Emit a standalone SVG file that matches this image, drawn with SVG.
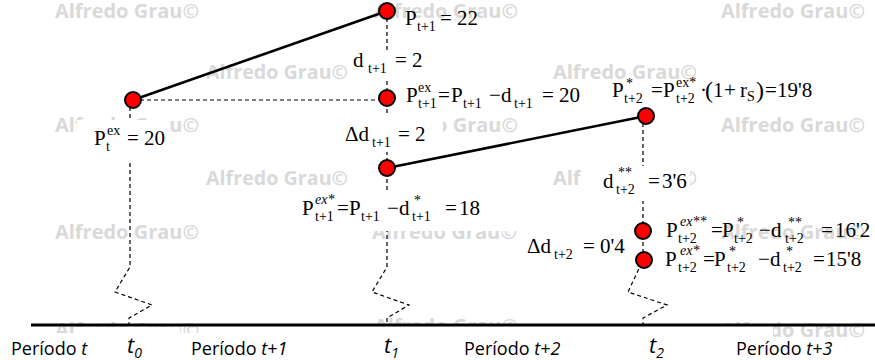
<svg xmlns="http://www.w3.org/2000/svg" width="875" height="360" viewBox="0 0 875 360">
<style>
.wm{font-family:"Open Sans","Liberation Sans",sans-serif;font-weight:bold;font-size:19px;fill:#d9d9d9}
.m{font-family:"Liberation Serif","Times New Roman",serif;font-size:21px;fill:#000}
.s{font-size:14px}
.i{font-style:italic}
.ax{font-family:"Open Sans","Liberation Sans",sans-serif;font-size:18px;fill:#000}
.tk{font-family:"Open Sans","Liberation Sans",sans-serif;font-size:22px;font-style:italic;fill:#000}
.tks{font-size:14px}
.dash{fill:none;stroke:#000;stroke-width:1.2;stroke-dasharray:4 3}
.solid{fill:none;stroke:#000;stroke-width:2.6}
.node{fill:#f00;stroke:#000;stroke-width:2}
.bg{fill:#fff}
</style>
<rect width="875" height="360" fill="#fff"/>
<g id="watermarks">
<text class="wm" x="55" y="18" textLength="144" lengthAdjust="spacingAndGlyphs">Alfredo Grau©</text>
<text class="wm" x="374" y="18" textLength="144" lengthAdjust="spacingAndGlyphs">Alfredo Grau©</text>
<text class="wm" x="721" y="18" textLength="144" lengthAdjust="spacingAndGlyphs">Alfredo Grau©</text>
<text class="wm" x="206" y="79" textLength="142" lengthAdjust="spacingAndGlyphs">Alfredo Grau©</text>
<text class="wm" x="553" y="79" textLength="144" lengthAdjust="spacingAndGlyphs">Alfredo Grau©</text>
<text class="wm" x="55" y="132" textLength="144" lengthAdjust="spacingAndGlyphs">Alfredo Grau©</text>
<text class="wm" x="374" y="132" textLength="144" lengthAdjust="spacingAndGlyphs">Alfredo Grau©</text>
<text class="wm" x="721" y="132" textLength="144" lengthAdjust="spacingAndGlyphs">Alfredo Grau©</text>
<text class="wm" x="206" y="185" textLength="142" lengthAdjust="spacingAndGlyphs">Alfredo Grau©</text>
<text class="wm" x="553" y="185" textLength="144" lengthAdjust="spacingAndGlyphs">Alfredo Grau©</text>
<text class="wm" x="55" y="239" textLength="144" lengthAdjust="spacingAndGlyphs">Alfredo Grau©</text>
<text class="wm" x="372" y="239" textLength="145" lengthAdjust="spacingAndGlyphs">Alfredo Grau©</text>
<text class="wm" x="721" y="239" textLength="144" lengthAdjust="spacingAndGlyphs">Alfredo Grau©</text>
<text class="wm" x="55" y="337" textLength="144" lengthAdjust="spacingAndGlyphs">Alfredo Grau©</text>
<text class="wm" x="374" y="333" textLength="144" lengthAdjust="spacingAndGlyphs">Alfredo Grau©</text>
<text class="wm" x="721" y="337" textLength="144" lengthAdjust="spacingAndGlyphs">Alfredo Grau©</text>
</g>
<g id="connectors">
<path class="dash" d="M133,100 H387"/>
<path class="dash" d="M130,100 V267 L115,292 L152,305 L129,318 V325"/>
<path class="dash" d="M387,11 V267 L372,292 L409,305 L387,318 V325"/>
<path class="dash" d="M643,116 V260 L628,292 L667,305 L643,318 V325"/>
<path class="solid" d="M133,100 L387,11"/>
<path class="solid" d="M387,168 L646,116"/>
</g>
<g id="label-boxes">
<rect class="bg" x="77" y="120" width="91" height="40"/>
<rect class="bg" x="350" y="51" width="76" height="27"/>
<rect class="bg" x="340" y="116" width="103" height="36"/>
<rect class="bg" x="298" y="191" width="222" height="40"/>
<rect class="bg" x="582" y="166" width="108" height="35"/>
<rect class="bg" x="75" y="327" width="105" height="33"/>
<rect class="bg" x="0" y="333" width="720" height="27"/>
<rect class="bg" x="360" y="326" width="160" height="10"/>
<rect class="bg" x="719" y="326" width="54" height="34"/>
<rect class="bg" x="773" y="338" width="102" height="22"/>
</g>
<g id="axis">
<line x1="31" y1="325" x2="875" y2="325" stroke="#000" stroke-width="3"/>
</g>
<g id="node-A"><circle class="node" cx="133" cy="100" r="8"/></g>
<g id="node-B"><circle class="node" cx="387" cy="11" r="8"/></g>
<g id="node-C"><circle class="node" cx="387" cy="98" r="8"/></g>
<g id="node-D"><circle class="node" cx="387" cy="168" r="8"/></g>
<g id="node-E"><circle class="node" cx="646" cy="116" r="8"/></g>
<g id="node-F"><circle class="node" cx="643" cy="231" r="8"/></g>
<g id="node-G"><circle class="node" cx="644" cy="260" r="8"/></g>
<g id="label-Pt">
<text class="m"><tspan x="94" y="145">P</tspan><tspan class="s" x="107" y="135">ex</tspan><tspan class="s" x="106" y="151">t</tspan><tspan x="127" y="145">= 20</tspan></text>
</g>
<g id="label-Pt1">
<text class="m"><tspan x="405" y="25">P</tspan><tspan class="s" x="417" y="31">t+1</tspan><tspan x="440" y="25">= 22</tspan></text>
</g>
<g id="label-dt1">
<text class="m"><tspan x="353" y="67">d</tspan><tspan class="s" x="368" y="73">t+1</tspan><tspan x="395" y="67">= 2</tspan></text>
</g>
<g id="label-Pex-t1">
<text class="m"><tspan x="406" y="102">P</tspan><tspan class="s" x="418" y="92">ex</tspan><tspan class="s" x="418" y="108">t+1</tspan><tspan x="438" y="102">=</tspan><tspan x="451" y="102">P</tspan><tspan class="s" x="463" y="108">t+1</tspan><tspan x="489" y="102">−</tspan><tspan x="501" y="102">d</tspan><tspan class="s" x="514" y="108">t+1</tspan><tspan x="542" y="102">= 20</tspan></text>
</g>
<g id="label-Ddt1">
<text class="m"><tspan x="345" y="141">Δd</tspan><tspan class="s" x="372" y="147">t+1</tspan><tspan x="398" y="141">= 2</tspan></text>
</g>
<g id="label-Pexs-t1">
<text class="m"><tspan x="302" y="215">P</tspan><tspan class="s i" x="315" y="204">ex*</tspan><tspan class="s" x="315" y="221">t+1</tspan><tspan x="337" y="215">=</tspan><tspan x="349" y="215">P</tspan><tspan class="s" x="361" y="221">t+1</tspan><tspan x="387" y="215">−</tspan><tspan x="399" y="215">d</tspan><tspan class="s" x="414" y="205">*</tspan><tspan class="s" x="412" y="221">t+1</tspan><tspan x="445" y="215">=</tspan><tspan x="459" y="215">18</tspan></text>
</g>
<g id="label-Ps-t2">
<text class="m"><tspan x="612" y="97">P</tspan><tspan class="s" x="626" y="88">*</tspan><tspan class="s" x="624" y="103">t+2</tspan><tspan x="651" y="97">=</tspan><tspan x="663" y="97">P</tspan><tspan class="s" x="676" y="87">ex*</tspan><tspan class="s" x="676" y="103">t+2</tspan><tspan x="700" y="97">·</tspan><tspan x="705" y="98" font-size="24">(</tspan><tspan x="713" y="97">1</tspan><tspan x="724" y="97">+</tspan><tspan x="740" y="97">r</tspan><tspan class="s" x="747" y="101">S</tspan><tspan x="756" y="98" font-size="24">)</tspan><tspan x="765" y="97">=</tspan><tspan x="777" y="97">19'8</tspan></text>
</g>
<g id="label-dss-t2">
<text class="m"><tspan x="603" y="188">d</tspan><tspan class="s" x="618" y="177">**</tspan><tspan class="s" x="616" y="194">t+2</tspan><tspan x="648" y="188">=</tspan><tspan x="662" y="188">3'6</tspan></text>
</g>
<g id="label-Ddt2">
<text class="m"><tspan x="527" y="253">Δd</tspan><tspan class="s" x="554" y="259">t+2</tspan><tspan x="583" y="253">=</tspan><tspan x="600" y="253">0'4</tspan></text>
</g>
<g id="label-Pexss-t2">
<text class="m"><tspan x="666" y="237">P</tspan><tspan class="s i" x="680" y="226">ex**</tspan><tspan class="s" x="678" y="243">t+2</tspan><tspan x="711" y="237">=</tspan><tspan x="722" y="237">P</tspan><tspan class="s" x="737" y="227">*</tspan><tspan class="s" x="734" y="243">t+2</tspan><tspan x="759" y="237">−</tspan><tspan x="771" y="237">d</tspan><tspan class="s" x="788" y="227">**</tspan><tspan class="s" x="785" y="243">t+2</tspan><tspan x="821" y="237">=</tspan><tspan x="835" y="237">16'2</tspan></text>
</g>
<g id="label-Pexs-t2">
<text class="m"><tspan x="665" y="266">P</tspan><tspan class="s i" x="680" y="255">ex*</tspan><tspan class="s" x="678" y="272">t+2</tspan><tspan x="703" y="266">=</tspan><tspan x="714" y="266">P</tspan><tspan class="s" x="729" y="256">*</tspan><tspan class="s" x="727" y="272">t+2</tspan><tspan x="758" y="266">−</tspan><tspan x="770" y="266">d</tspan><tspan class="s" x="786" y="256">*</tspan><tspan class="s" x="783" y="272">t+2</tspan><tspan x="813" y="266">=</tspan><tspan x="826" y="266">15'8</tspan></text>
</g>
<g id="axis-labels">
<text class="ax" x="11" y="355">Período <tspan font-style="italic">t</tspan></text>
<text class="tk" x="127" y="353">t<tspan class="tks" dy="5">0</tspan></text>
<text class="ax" x="191" y="355">Período <tspan font-style="italic">t+1</tspan></text>
<text class="tk" x="384" y="353">t<tspan class="tks" dy="5">1</tspan></text>
<text class="ax" x="464" y="355">Período <tspan font-style="italic">t+2</tspan></text>
<text class="tk" x="649" y="353">t<tspan class="tks" dy="5">2</tspan></text>
<text class="ax" x="736" y="355">Período <tspan font-style="italic">t+3</tspan></text>
</g>
</svg>
